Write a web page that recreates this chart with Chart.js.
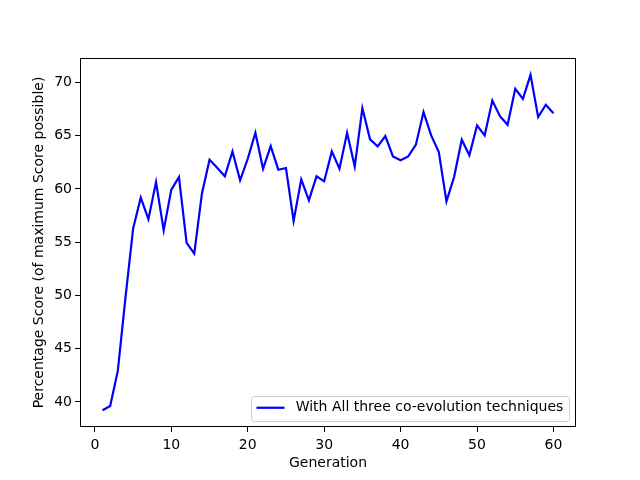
<!DOCTYPE html>
<html>
<head>
<meta charset="utf-8">
<script src="https://cdn.jsdelivr.net/npm/chart.js@4"></script>
<style>
  html, body { margin: 0; padding: 0; background: #fff; }
  #wrap { width: 640px; height: 480px; }
</style>
</head>
<body>
<div id="wrap"><canvas id="chart" width="640" height="480"></canvas></div>
<script>
// --- data ---
const generations = [
    1, 2, 3, 4, 5, 6, 7, 8, 9, 10,
    11, 12, 13, 14, 15, 16, 17, 18, 19, 20,
    21, 22, 23, 24, 25, 26, 27, 28, 29, 30,
    31, 32, 33, 34, 35, 36, 37, 38, 39, 40,
    41, 42, 43, 44, 45, 46, 47, 48, 49, 50,
    51, 52, 53, 54, 55, 56, 57, 58, 59, 60
];
const scores = [
    39.22, 39.63, 42.94, 49.8, 56.28, 59.19, 57.16, 60.65, 56.12, 59.94,
    61.12, 54.94, 53.94, 59.56, 62.75, 62.0, 61.19, 63.53, 60.81, 62.84,
    65.28, 61.9, 64.03, 61.81, 61.97, 57.0, 60.9, 58.94, 61.19, 60.72,
    63.53, 61.9, 65.28, 62.12, 67.59, 64.66, 64.0, 64.97, 63.06, 62.69,
    63.06, 64.16, 67.22, 65.03, 63.47, 58.84, 61.12, 64.63, 63.16, 65.97,
    65.03, 68.31, 66.84, 66.03, 69.41, 68.47, 70.72, 66.75, 67.91, 67.12
];
const xTicks = [0, 10, 20, 30, 40, 50, 60];
const yTicks = [40, 45, 50, 55, 60, 65, 70];
const seriesLabel = 'With All three co-evolution techniques';

const FONT = "'DejaVu Sans', sans-serif";

// frame round the plot + matplotlib-style legend box
const framePlugin = {
    id: 'frame',
    afterDraw(chart) {
        const ctx = chart.ctx;
        const a = chart.chartArea;
        ctx.save();
        ctx.strokeStyle = '#000';
        ctx.lineWidth = 1;
        ctx.strokeRect(Math.round(a.left) + 0.5, Math.round(a.top) + 0.5,
            Math.round(a.right - a.left) - 1, Math.round(a.bottom - a.top) - 1);

        // legend, lower right
        ctx.font = '14px ' + FONT;
        const tw = ctx.measureText(seriesLabel).width;
        const right = a.right - 7, bottom = a.bottom - 7;
        const h = 24.5;
        const w = tw + 5.6 + 28 + 11.2 + 5.6;
        const left = right - w, top = bottom - h;
        ctx.beginPath();
        ctx.roundRect(Math.round(left) + 0.5, Math.round(top) + 0.5, Math.round(w), Math.round(h), 3);
        ctx.fillStyle = 'rgba(255,255,255,0.8)';
        ctx.fill();
        ctx.strokeStyle = '#cccccc';
        ctx.stroke();

        const cy = top + h / 2;
        ctx.beginPath();
        ctx.moveTo(left + 5.6, cy);
        ctx.lineTo(left + 5.6 + 28, cy);
        ctx.strokeStyle = '#0000ff';
        ctx.lineWidth = 2.2;
        ctx.stroke();

        ctx.fillStyle = '#000';
        ctx.textBaseline = 'middle';
        ctx.textAlign = 'left';
        ctx.fillText(seriesLabel, left + 5.6 + 28 + 11.2, cy);
        ctx.restore();
    }
};

new Chart(document.getElementById('chart'), {
    type: 'line',
    data: {
        datasets: [{
            label: seriesLabel,
            data: generations.map((g, i) => ({ x: g, y: scores[i] })),
            borderColor: '#0000ff',
            borderWidth: 2.2,
            pointRadius: 0,
            tension: 0,
            fill: false
        }]
    },
    options: {
        responsive: false,
        animation: false,
        layout: { padding: { left: 0, top: 58, right: 64, bottom: 0 } },
        plugins: {
            legend: { display: false },
            tooltip: { enabled: false }
        },
        scales: {
            x: {
                type: 'linear',
                min: -1.95,
                max: 62.95,
                afterBuildTicks: s => { s.ticks = xTicks.map(v => ({ value: v })); },
                afterFit: s => { s.height = 53; },
                grid: { drawOnChartArea: false, drawTicks: true, tickLength: 5, tickColor: '#000' },
                border: { display: false },
                ticks: { color: '#000', font: { family: FONT, size: 14 }, padding: 5, maxRotation: 0 },
                title: { display: true, text: 'Generation', color: '#000', font: { family: FONT, size: 14 }, padding: { top: 0, bottom: 8 } }
            },
            y: {
                type: 'linear',
                min: 37.65,
                max: 72.3,
                afterBuildTicks: s => { s.ticks = yTicks.map(v => ({ value: v })); },
                afterFit: s => { s.width = 80; },
                grid: { drawOnChartArea: false, drawTicks: true, tickLength: 5, tickColor: '#000' },
                border: { display: false },
                ticks: { color: '#000', font: { family: FONT, size: 14 }, padding: 3 },
                title: { display: true, text: 'Percentage Score (of maximum Score possible)', color: '#000', font: { family: FONT, size: 14 }, padding: { top: 31, bottom: 0 } }
            }
        }
    },
    plugins: [framePlugin]
});
</script>
</body>
</html>
